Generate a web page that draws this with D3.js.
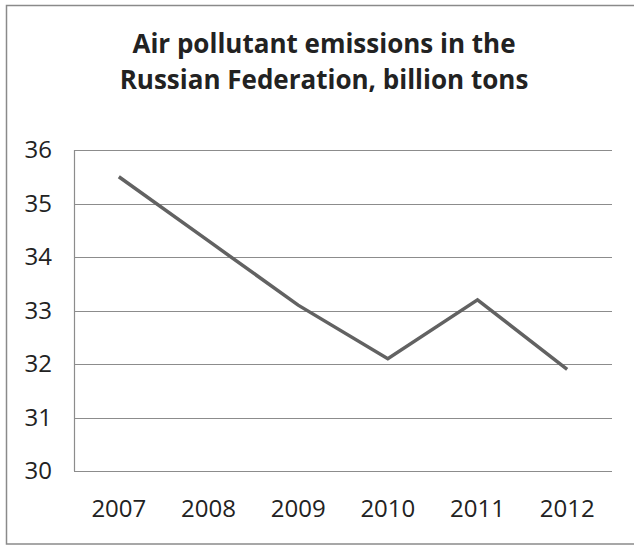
<!DOCTYPE html>
<html>
<head>
<meta charset="utf-8">
<script src="https://cdn.jsdelivr.net/npm/d3@7"></script>
<style>
  body { margin: 0; background: #fff; }
  text { font-family: "Open Sans", Lato, sans-serif; fill: #222; }
</style>
</head>
<body>
<div id="svgContainer"></div>
<script>
// data
var years = ["2007", "2008", "2009", "2010", "2011", "2012"];
var emissions = [35.5, 34.3, 33.1, 32.1, 33.2, 31.9];
var yTicks = [30, 31, 32, 33, 34, 35, 36];
var titleLines = ["Air pollutant emissions in the", "Russian Federation, billion tons"];

var svgWidth = 634, svgHeight = 545;
var margin = {top: 150, left: 74, right: 22, bottom: 74};

var svg = d3.select("#svgContainer").append("svg")
    .attr("width", svgWidth)
    .attr("height", svgHeight);

// outer frame
svg.append("rect")
    .attr("x", 6.5).attr("y", 5.5)
    .attr("width", 640).attr("height", 538.5)
    .attr("fill", "none")
    .attr("stroke", "#8a8a8a")
    .attr("stroke-width", 1.5);

var x = d3.scalePoint().domain(years)
    .range([margin.left, svgWidth - margin.right]).padding(0.5);
var y = d3.scaleLinear().domain([30, 36])
    .range([svgHeight - margin.bottom, margin.top]);

// gridlines
svg.append("g")
    .selectAll("line")
    .data(yTicks)
    .enter().append("line")
    .attr("x1", margin.left)
    .attr("x2", svgWidth - margin.right)
    .attr("y1", d => Math.round(y(d)) + 0.5)
    .attr("y2", d => Math.round(y(d)) + 0.5)
    .attr("stroke", "#8c8c8c")
    .attr("stroke-width", 1.2);

// y axis line
svg.append("line")
    .attr("x1", margin.left + 0.5).attr("x2", margin.left + 0.5)
    .attr("y1", y(36)).attr("y2", y(30))
    .attr("stroke", "#8c8c8c")
    .attr("stroke-width", 1.2);

// y labels
svg.append("g")
    .selectAll("text")
    .data(yTicks)
    .enter().append("text")
    .attr("x", 52)
    .attr("y", d => y(d))
    .attr("dy", "0.35em")
    .attr("text-anchor", "end")
    .attr("font-size", 24)
    .text(d => d);

// x labels
svg.append("g")
    .selectAll("text")
    .data(years)
    .enter().append("text")
    .attr("x", d => x(d))
    .attr("y", 517)
    .attr("text-anchor", "middle")
    .attr("font-size", 24)
    .text(d => d);

// line
var line = d3.line()
    .x((d, i) => x(years[i]))
    .y(d => y(d));

svg.append("path")
    .datum(emissions)
    .attr("d", line)
    .attr("fill", "none")
    .attr("stroke", "#626262")
    .attr("stroke-width", 3.5)
    .attr("stroke-linejoin", "miter");

// title
svg.append("g")
    .selectAll("text")
    .data(titleLines)
    .enter().append("text")
    .attr("x", 324)
    .attr("y", (d, i) => 53 + i * 36)
    .attr("text-anchor", "middle")
    .attr("font-size", 26)
    .attr("font-weight", "bold")
    .attr("fill", "#000")
    .text(d => d);
</script>
</body>
</html>
